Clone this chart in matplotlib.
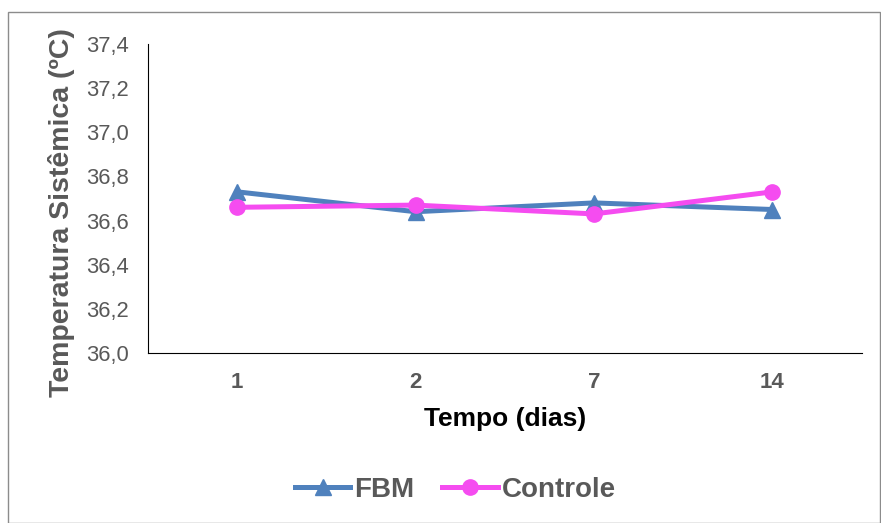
import matplotlib.pyplot as plt
from matplotlib.patches import Rectangle

plt.rcParams['font.family'] = ['Liberation Sans', 'DejaVu Sans']

dias = ['1', '2', '7', '14']
fbm = [36.73, 36.64, 36.68, 36.65]
controle = [36.66, 36.67, 36.63, 36.73]
yticks = [36.0, 36.2, 36.4, 36.6, 36.8, 37.0, 37.2, 37.4]

fig = plt.figure(figsize=(8.81, 5.23), dpi=100)
ax = fig.add_axes([0.168, 0.325, 0.810, 0.591])

x = range(len(dias))
ax.plot(x, fbm, color='#4F81BD', lw=3.6, marker='^', ms=11, label='FBM')
ax.plot(x, controle, color='#F54CF0', lw=3.6, marker='o', ms=11, label='Controle')

ax.set_xlim(-0.5, len(dias) - 0.5)
ax.set_ylim(36.0, 37.4)
ax.set_yticks(yticks)
ax.set_yticklabels([f'{v:.1f}'.replace('.', ',') for v in yticks])
ax.set_xticks(list(x))
ax.set_xticklabels(dias, fontweight='bold')
ax.tick_params(axis='y', length=0, labelsize=15.8, colors='#595959', pad=14)
ax.tick_params(axis='x', length=0, labelsize=16, colors='#595959', pad=14)

for s in ['top', 'right']:
    ax.spines[s].set_visible(False)
ax.spines['left'].set_color('black')
ax.spines['bottom'].set_color('black')

ax.set_xlabel('Tempo (dias)', fontsize=19, fontweight='bold', labelpad=10)
ax.set_ylabel('Temperatura Sistêmica (ºC)', fontsize=20.5, fontweight='bold',
              color='#595959')
ax.yaxis.set_label_coords(-0.102, 0.455)

leg = fig.legend(loc='center', bbox_to_anchor=(0.517, 0.063), ncol=2,
                 frameon=False, handlelength=2.0, columnspacing=1.0,
                 handletextpad=0.15, prop={'weight': 'bold', 'size': 20})
for t in leg.get_texts():
    t.set_color('#595959')

fig.patches.append(Rectangle((0.009, 0.0), 0.99, 0.977, transform=fig.transFigure,
                             fill=False, edgecolor='#8c8c8c', lw=1))

fig.savefig('out.png', dpi=100)
